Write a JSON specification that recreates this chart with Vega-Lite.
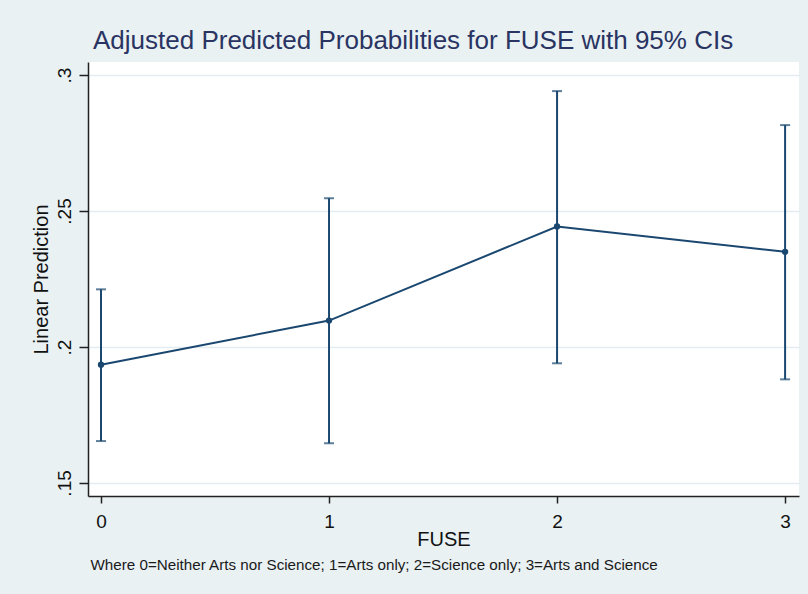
{
  "$schema": "https://vega.github.io/schema/vega-lite/v6.json",
  "width": 711,
  "height": 434,
  "autosize": {"type": "none"},
  "padding": {"left": 88, "top": 62, "right": 9, "bottom": 98},
  "background": "#E9F1F3",
  "title": {
    "text": "Adjusted Predicted Probabilities for FUSE with 95% CIs",
    "anchor": "start",
    "frame": "group",
    "dx": 5,
    "offset": -13,
    "baseline": "alphabetic",
    "fontSize": 26,
    "fontWeight": "normal",
    "color": "#2A3462",
    "font": "Liberation Sans"
  },
  "data": {
    "values": [
      {"fuse": 0, "pred": 0.1935, "lo": 0.1654, "hi": 0.2212},
      {"fuse": 1, "pred": 0.2097, "lo": 0.1646, "hi": 0.2547},
      {"fuse": 2, "pred": 0.2443, "lo": 0.1940, "hi": 0.2941},
      {"fuse": 3, "pred": 0.2350, "lo": 0.1881, "hi": 0.2816}
    ]
  },
  "layer": [
    {
      "mark": {"type": "rule", "color": "#1A476F", "strokeWidth": 2},
      "encoding": {
        "x": {"field": "fuse", "type": "quantitative", "scale": {"domain": [-0.057, 3.061], "nice": false, "zero": false}, "axis": null},
        "y": {
          "field": "lo", "type": "quantitative",
          "scale": {"domain": [0.1452, 0.3048], "nice": false, "zero": false},
          "axis": {
            "values": [0.15, 0.2, 0.25, 0.3],
            "labelExpr": "substring(format(datum.value, '.2~f'), 1)",
            "labelAngle": -90,
            "labelAlign": "center",
            "labelBaseline": "alphabetic",
            "labelPadding": 9,
            "labelFontSize": 19,
            "labelColor": "#111111",
            "tickSize": 9,
            "tickWidth": 1.5,
            "tickColor": "#222222",
            "domainColor": "#222222",
            "domainWidth": 1.5,
            "grid": true,
            "gridColor": "#E3EDF1",
            "gridWidth": 1.5,
            "title": "Linear Prediction",
            "titleFontSize": 20,
            "titleFontWeight": "normal",
            "titleColor": "#111111",
            "titleAngle": -90,
            "titleBaseline": "alphabetic",
            "titleAlign": "center",
            "titleX": -41,
            "titleY": 217
          }
        },
        "y2": {"field": "hi"}
      }
    },
    {
      "mark": {"type": "tick", "orient": "horizontal", "color": "#1A476F", "thickness": 2, "size": 10},
      "encoding": {
        "x": {"field": "fuse", "type": "quantitative", "axis": null},
        "y": {"field": "lo", "type": "quantitative", "title": "Linear Prediction"}
      }
    },
    {
      "mark": {"type": "tick", "orient": "horizontal", "color": "#1A476F", "thickness": 2, "size": 10},
      "encoding": {
        "x": {"field": "fuse", "type": "quantitative", "axis": null},
        "y": {"field": "hi", "type": "quantitative", "title": "Linear Prediction"}
      }
    },
    {
      "mark": {"type": "line", "color": "#1A476F", "strokeWidth": 2},
      "encoding": {
        "x": {
          "field": "fuse", "type": "quantitative",
          "axis": {
            "orient": "bottom",
            "values": [0, 1, 2, 3],
            "format": "d",
            "labelFontSize": 19,
            "labelColor": "#111111",
            "labelBaseline": "alphabetic",
            "labelPadding": 24,
            "labelFlush": false,
            "labelOverlap": false,
            "tickSize": 7,
            "tickWidth": 1.5,
            "tickColor": "#222222",
            "domainColor": "#222222",
            "domainWidth": 1.5,
            "grid": false,
            "title": "FUSE",
            "titleFontSize": 20,
            "titleFontWeight": "normal",
            "titleColor": "#111111",
            "titleBaseline": "alphabetic",
            "titleAlign": "center",
            "titleX": 355.5,
            "titleY": 49
          }
        },
        "y": {"field": "pred", "type": "quantitative", "title": "Linear Prediction"}
      }
    },
    {
      "mark": {"type": "circle", "color": "#1A476F", "opacity": 1, "size": 40},
      "encoding": {
        "x": {
          "field": "fuse", "type": "quantitative",
          "axis": {
            "orient": "bottom",
            "domain": false,
            "ticks": false,
            "labels": false,
            "grid": false,
            "title": "Where 0=Neither Arts nor Science; 1=Arts only; 2=Science only; 3=Arts and Science",
            "titleFontSize": 15.2,
            "titleFontWeight": "normal",
            "titleColor": "#1A1A1A",
            "titleAlign": "left",
            "titleBaseline": "alphabetic",
            "titleX": 2,
            "titleY": 73
          }
        },
        "y": {"field": "pred", "type": "quantitative", "title": "Linear Prediction"}
      }
    }
  ],
  "resolve": {"axis": {"x": "independent"}},
  "config": {
    "font": "Liberation Sans",
    "view": {"fill": "white", "stroke": null}
  }
}
